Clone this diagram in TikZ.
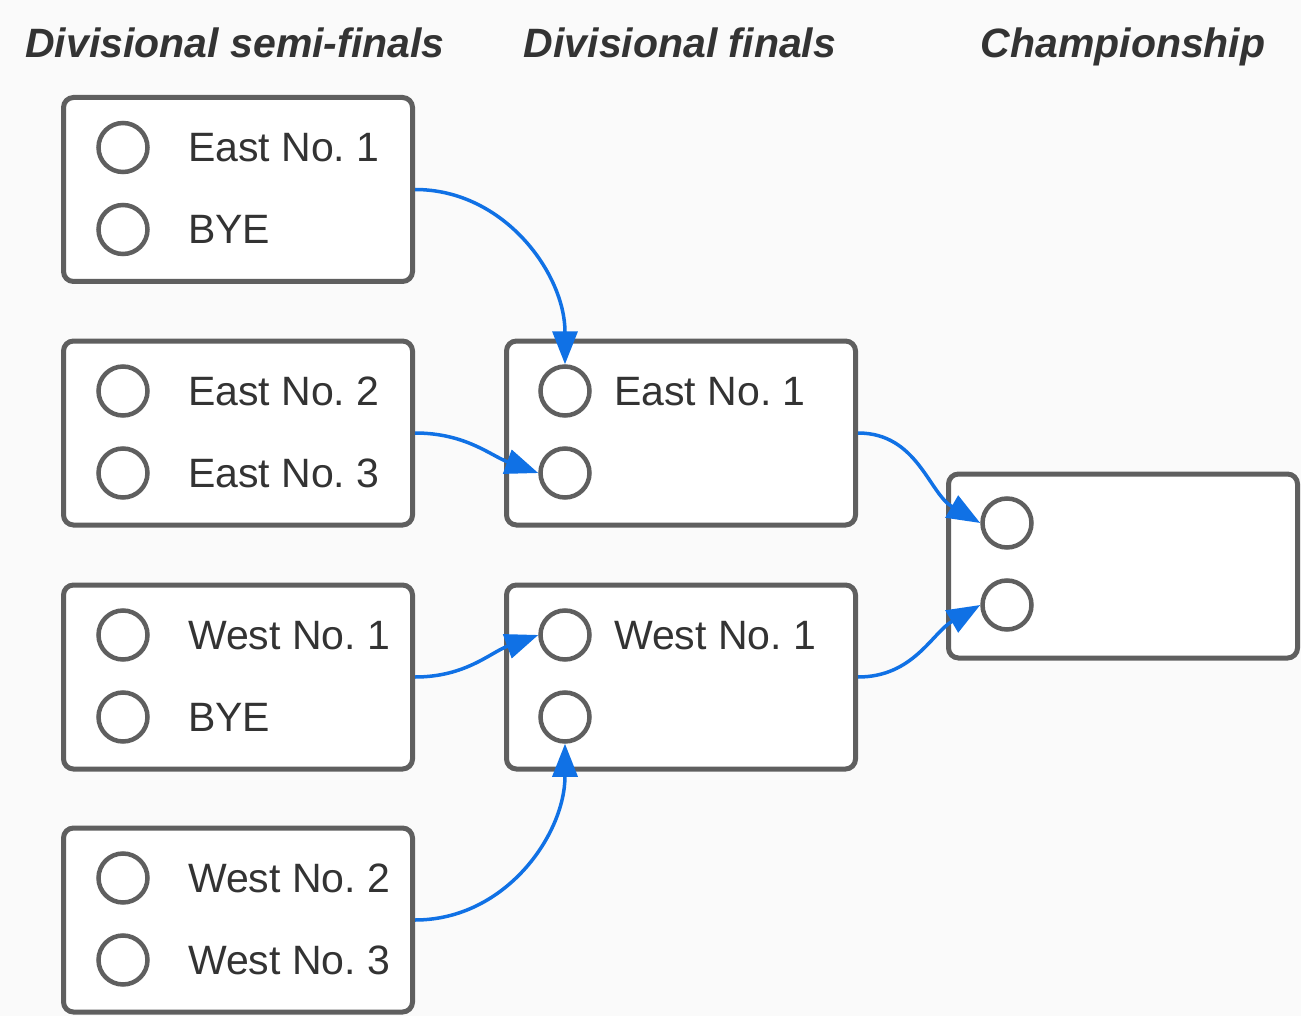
\documentclass[tikz,border=0pt]{standalone}
\usepackage{fontspec}
\setmainfont{Liberation Sans}
\usetikzlibrary{arrows.meta}
\definecolor{boxgray}{HTML}{5F5F5F}
\definecolor{textgray}{HTML}{333333}
\definecolor{arrowblue}{HTML}{1071E5}
\definecolor{bggray}{HTML}{FAFAFA}
\frenchspacing
\begin{document}
\begin{tikzpicture}[x=1pt,y=1pt,
  matchbox/.style={draw=boxgray,line width=5pt,fill=white,rounded corners=10pt,minimum width=349pt,minimum height=184pt,inner sep=0pt},
  slot/.style={circle,draw=boxgray,line width=4.5pt,minimum size=49pt,inner sep=0pt},
  team/.style={anchor=base west,text=textgray,font=\fontsize{41}{49}\selectfont,inner sep=0pt},
  roundtitle/.style={anchor=base,text=textgray,font=\fontsize{41}{49}\selectfont\bfseries\itshape,inner sep=0pt},
  adv/.style={draw=arrowblue,line width=3.5pt,-{Triangle[length=33pt,width=25pt]}}]
\fill[bggray] (0,0) rectangle (1301,-1016);
\useasboundingbox (0,0) rectangle (1301,-1016);
% round titles
\node[roundtitle] (t1) at (235,-58) {Divisional semi-finals};
\node[roundtitle] (t2) at (680,-58) {Divisional finals};
\node[roundtitle] (t3) at (1123,-58) {Championship};
\foreach \n/\y/\a/\b in {1/-189.5/East No. 1/BYE, 2/-433/East No. 2/East No. 3,
  3/-677/West No. 1/BYE, 4/-920/West No. 2/West No. 3} % semi-finals
{
\node[matchbox] (s\n) at (238,\y) {};
\node[slot] (sa\n) at (123,\y+42) {};
\node[slot] (sb\n) at (123,\y-40) {};
\node[team] (na\n) at (188,\y+42-14) {\a};
\node[team] (nb\n) at (188,\y-40-14) {\b};
}
\foreach \n/\y/\a in {1/-433/East No. 1, 2/-677/West No. 1} % divisional finals
{
\node[matchbox] (f\n) at (681,\y) {};
\node[slot] (fa\n) at (565,\y+42) {};
\node[slot] (fb\n) at (565,\y-40) {};
\node[team] (m\n) at (614,\y+42-14) {\a};
}
% championship
\node[matchbox] (c) at (1123,-566) {};
\node[slot] (ca) at (1007,-523) {};
\node[slot] (cb) at (1007,-605) {};
% winners move on
\draw[adv] (s1.east) to[out=0,in=90] (fa1.north);
\draw[adv] (s2.east) to[out=0,in=160] (fb1.west);
\draw[adv] (s3.east) to[out=0,in=200] (fa2.west);
\draw[adv] (s4.east) to[out=0,in=-90] (fb2.south);
\draw[adv] (f1.east) to[out=0,in=150] (ca.west);
\draw[adv] (f2.east) to[out=0,in=210] (cb.west);
\end{tikzpicture}
\end{document}
